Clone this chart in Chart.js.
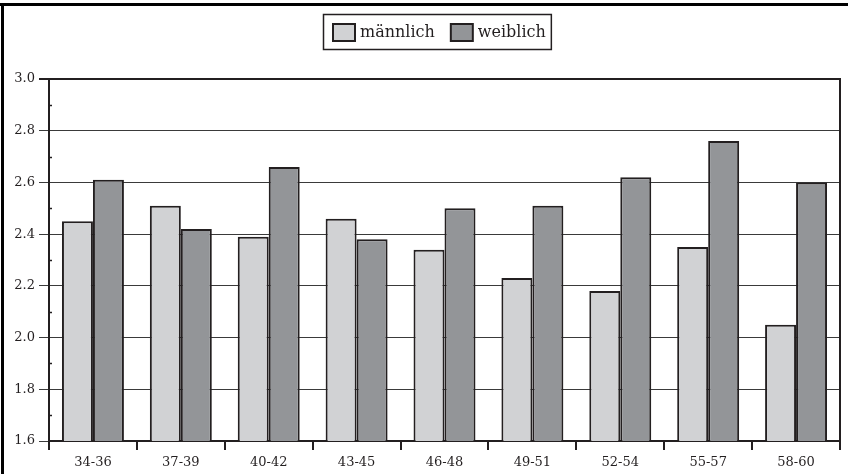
<!DOCTYPE html>
<html>
<head>
<meta charset="utf-8">
<script src="https://cdn.jsdelivr.net/npm/chart.js@4.4.1/dist/chart.umd.min.js"></script>
<style>
  html, body { margin: 0; padding: 0; background: #fff; }
  #wrap { position: relative; width: 848px; height: 474px; }
  canvas { display: block; }
</style>
</head>
<body>
<div id="wrap"><canvas id="c" width="848" height="474"></canvas></div>
<script>
const categories = ["34-36", "37-39", "40-42", "43-45", "46-48", "49-51", "52-54", "55-57", "58-60"];
const seriesNames = ["männlich", "weiblich"];
const maleValues = [2.45, 2.51, 2.39, 2.46, 2.34, 2.23, 2.18, 2.35, 2.05];
const femaleValues = [2.61, 2.42, 2.66, 2.38, 2.50, 2.51, 2.62, 2.76, 2.60];
const yMin = 1.6, yMax = 3.0, yStep = 0.2, yMinorStep = 0.1;

const FONT = "'DejaVu Serif', 'Liberation Serif', serif";
const INK = "#231f20";

const framePlugin = {
  id: "frame",
  beforeDraw(chart) {
    const c = chart.ctx;
    c.save();
    c.fillStyle = "#fff";
    c.fillRect(0, 0, chart.width, chart.height);
    c.fillStyle = "#000";
    c.fillRect(0, 3, chart.width, 3);
    c.fillRect(1, 3, 3, chart.height - 3);
    c.restore();
  },
  afterDraw(chart) {
    const c = chart.ctx;
    const a = chart.chartArea;
    const y = chart.scales.y;
    c.save();
    c.strokeStyle = INK;
    c.lineWidth = 2;
    c.beginPath();
    c.moveTo(a.right, a.top);
    c.lineTo(a.right, a.bottom + 9);
    c.stroke();
    c.beginPath();
    c.moveTo(a.left - 10, a.top);
    c.lineTo(a.right + 1, a.top);
    c.stroke();
    c.lineWidth = 1.5;
    for (let v = yMin + yMinorStep; v < yMax; v += yStep) {
      const py = Math.round(y.getPixelForValue(v)) + 0.5;
      c.beginPath();
      c.moveTo(a.left, py);
      c.lineTo(a.left + 3, py);
      c.stroke();
    }
    c.font = "16px " + FONT;
    c.textBaseline = "middle";
    const sw = 22, sh = 17, gapT = 5, gapItem = 16, padL = 10, padR = 5;
    const ds = chart.data.datasets;
    let total = padL + padR;
    ds.forEach((d, i) => {
      total += sw + gapT + c.measureText(d.label).width;
      if (i < ds.length - 1) total += gapItem;
    });
    const cx = 436.5;
    const top = 14, h = 35;
    const left = Math.round(cx - total / 2);
    c.strokeStyle = INK;
    c.lineWidth = 1.5;
    c.strokeRect(left + 0.5, top + 0.5, total, h);
    let x = left + padL;
    const midY = top + h / 2 + 1;
    ds.forEach((d, i) => {
      c.fillStyle = d.backgroundColor;
      c.fillRect(x, midY - sh / 2, sw, sh);
      c.lineWidth = 2;
      c.strokeStyle = INK;
      c.strokeRect(x, midY - sh / 2, sw, sh);
      x += sw + gapT;
      c.fillStyle = INK;
      c.fillText(d.label, x, midY);
      x += c.measureText(d.label).width + gapItem;
    });
    c.restore();
  }
};

new Chart(document.getElementById("c"), {
  type: "bar",
  data: {
    labels: categories,
    datasets: [
      { label: seriesNames[0], data: maleValues, backgroundColor: "#d1d2d4", borderColor: INK, borderWidth: 2, borderSkipped: "bottom" },
      { label: seriesNames[1], data: femaleValues, backgroundColor: "#939598", borderColor: INK, borderWidth: 2, borderSkipped: "bottom" }
    ]
  },
  options: {
    responsive: false,
    animation: false,
    devicePixelRatio: 1,
    layout: { padding: { top: 79, right: 8, bottom: 0, left: 0 } },
    datasets: { bar: { categoryPercentage: 0.705, barPercentage: 1.0 } },
    plugins: {
      legend: { display: false },
      tooltip: { enabled: false },
      title: { display: false }
    },
    scales: {
      x: {
        offset: true,
        afterFit(s) { s.height = 33; },
        grid: { display: true, offset: true, drawOnChartArea: false, drawTicks: true, tickLength: 9, color: INK, lineWidth: 2 },
        border: { display: true, color: INK, width: 2 },
        ticks: { color: INK, font: { family: FONT, size: 13 }, padding: 5, maxRotation: 0 }
      },
      y: {
        min: yMin, max: yMax,
        afterFit(s) { s.width = 49; },
        afterBuildTicks(s) {
          const t = [];
          for (let v = yMin; v <= yMax + 1e-9; v += yStep) t.push({ value: Math.round(v * 10) / 10 });
          s.ticks = t;
        },
        grid: {
          display: true, drawOnChartArea: true, drawTicks: true, tickLength: 10,
          color: "#3a3a3a", lineWidth: 1
        },
        border: { display: true, color: INK, width: 2 },
        ticks: {
          color: INK, font: { family: FONT, size: 13 }, padding: 4,
          callback: v => Number(v).toFixed(1)
        }
      }
    }
  },
  plugins: [framePlugin]
});
</script>
</body>
</html>
